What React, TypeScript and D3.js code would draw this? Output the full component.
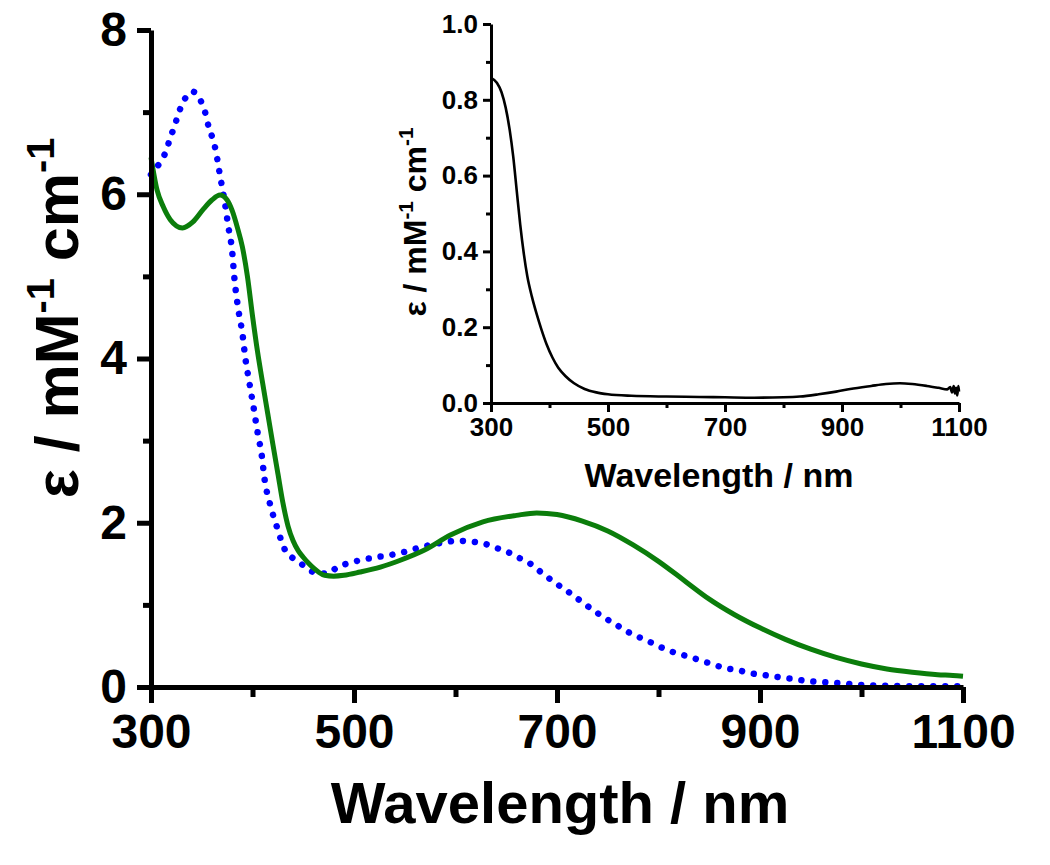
import React, { useEffect, useRef } from "react";
import * as d3 from "d3";

// ---- Data ----
const greenNm = [300, 306, 312, 319, 331, 341, 351, 360, 368, 375, 380, 385, 390, 395, 400, 405, 410, 415, 420, 425, 430, 435, 440, 445, 450, 455, 460, 465, 471, 480, 490, 506, 526, 545, 570, 595, 627, 660, 680, 700, 725, 750, 775, 800, 825, 850, 875, 900, 925, 950, 975, 1000, 1025, 1050, 1075, 1090, 1100];
const greenEps = [6.45, 6.05, 5.85, 5.69, 5.59, 5.66, 5.81, 5.93, 5.99, 5.93, 5.8, 5.6, 5.36, 5.0, 4.52, 4.08, 3.7, 3.33, 2.96, 2.6, 2.24, 1.96, 1.78, 1.66, 1.58, 1.51, 1.45, 1.4, 1.36, 1.35, 1.36, 1.4, 1.46, 1.54, 1.67, 1.85, 2.01, 2.09, 2.12, 2.1, 2.02, 1.9, 1.73, 1.53, 1.3, 1.07, 0.88, 0.72, 0.58, 0.46, 0.36, 0.28, 0.22, 0.18, 0.15, 0.14, 0.13];

const blueNm = [300, 309, 315, 319, 323, 327, 332, 341, 350, 354, 357, 361, 364, 367, 370, 373, 376, 380, 382, 386, 390, 393, 397, 401, 405, 409, 412, 417, 424, 432, 442, 449, 460, 473, 484, 498, 509, 521, 532, 545, 557, 568, 580, 593, 604, 616, 627, 641, 652, 663, 675, 686, 698, 711, 723, 734, 746, 758, 770, 782, 793, 805, 818, 830, 842, 853, 865, 877, 889, 901, 913, 925, 937, 949, 961, 974, 986, 998, 1025, 1050, 1075, 1100];
const blueEps = [6.24, 6.39, 6.53, 6.69, 6.82, 6.98, 7.13, 7.25, 7.11, 6.97, 6.81, 6.67, 6.52, 6.3, 6.09, 5.88, 5.62, 5.3, 5.0, 4.6, 4.31, 4.0, 3.7, 3.41, 3.1, 2.83, 2.52, 2.24, 1.95, 1.67, 1.55, 1.49, 1.4, 1.38, 1.46, 1.52, 1.55, 1.58, 1.6, 1.63, 1.67, 1.71, 1.74, 1.77, 1.78, 1.77, 1.75, 1.69, 1.64, 1.57, 1.49, 1.38, 1.27, 1.16, 1.05, 0.95, 0.85, 0.76, 0.67, 0.6, 0.54, 0.47, 0.41, 0.37, 0.32, 0.28, 0.23, 0.21, 0.17, 0.15, 0.13, 0.11, 0.09, 0.07, 0.06, 0.05, 0.04, 0.025, 0.015, 0.01, 0.01, 0.01];

const insetNm = [300, 310, 318, 325, 332, 338, 344, 350, 356, 362, 370, 378, 386, 395, 405, 415, 428, 442, 460, 480, 500, 540, 600, 656, 700, 750, 800, 828, 860, 890, 914, 950, 975, 999, 1020, 1045, 1065, 1080, 1085, 1088, 1091, 1093, 1095, 1097, 1099, 1100];
const insetEps = [0.858, 0.845, 0.82, 0.78, 0.72, 0.65, 0.56, 0.47, 0.395, 0.335, 0.28, 0.235, 0.195, 0.155, 0.12, 0.093, 0.07, 0.052, 0.037, 0.028, 0.023, 0.019, 0.017, 0.016, 0.015, 0.014, 0.015, 0.017, 0.023, 0.03, 0.037, 0.045, 0.05, 0.052, 0.05, 0.045, 0.04, 0.036, 0.042, 0.028, 0.045, 0.025, 0.04, 0.02, 0.045, 0.03];

const mainXTicks = [300, 500, 700, 900, 1100];
const mainXMinor = [400, 600, 800, 1000];
const mainYTicks = [0, 2, 4, 6, 8];
const mainYMinor = [1, 3, 5, 7];
const insetXTicks = [300, 500, 700, 900, 1100];
const insetXMinor = [400, 600, 800, 1000];
const insetYTicks = [0, 0.2, 0.4, 0.6, 0.8, 1.0];
const insetYMinor = [0.1, 0.3, 0.5, 0.7, 0.9];

const FONT = "Arial, 'Liberation Sans', Helvetica, sans-serif";

export default function App() {
  const ref = useRef<SVGSVGElement | null>(null);

  useEffect(() => {
    const svg = d3.select(ref.current);
    svg.selectAll("*").remove();

    // ---------- Main chart ----------
    const x = d3.scaleLinear().domain([300, 1100]).range([151, 963]);
    const y = d3.scaleLinear().domain([0, 8]).range([687, 30]);

    const line = (xs: number[], ys: number[], sx: any, sy: any) =>
      d3
        .line<number>()
        .x((_, i) => sx(xs[i]))
        .y((_, i) => sy(ys[i]))
        .curve(d3.curveMonotoneX)(ys as any);

    const main = svg.append("g");

    main
      .append("path")
      .attr("d", line(blueNm, blueEps, x, y) as string)
      .attr("fill", "none")
      .attr("stroke", "#0000ff")
      .attr("stroke-width", 6.5)
      .attr("stroke-linecap", "round")
      .attr("stroke-dasharray", "0.01 12");

    main
      .append("path")
      .attr("d", line(greenNm, greenEps, x, y) as string)
      .attr("fill", "none")
      .attr("stroke", "#0b7d0b")
      .attr("stroke-width", 5)
      .attr("stroke-linejoin", "round");

    const styleAxis = (g: any, sw: number, fs: number) => {
      g.select(".domain").attr("stroke", "#000").attr("stroke-width", sw);
      g.selectAll(".tick line").attr("stroke", "#000").attr("stroke-width", sw);
      g.selectAll(".tick text")
        .attr("fill", "#000")
        .attr("font-family", FONT)
        .attr("font-weight", "bold")
        .attr("font-size", fs);
      g.attr("font-family", null).attr("font-size", null);
    };

    // x axis main
    const gx = main
      .append("g")
      .attr("transform", `translate(0,687)`)
      .call(
        d3.axisBottom(x).tickValues(mainXTicks).tickSize(16).tickSizeOuter(0).tickPadding(11).tickFormat(d3.format("d") as any)
      );
    styleAxis(gx, 5, 48);
    const gxm = main
      .append("g")
      .attr("transform", `translate(0,687)`)
      .call(d3.axisBottom(x).tickValues(mainXMinor).tickSize(10).tickSizeOuter(0).tickFormat(() => ""));
    styleAxis(gxm, 5, 48);
    gxm.select(".domain").remove();

    // y axis main
    const gy = main
      .append("g")
      .attr("transform", `translate(151,0)`)
      .call(d3.axisLeft(y).tickValues(mainYTicks).tickSize(14).tickSizeOuter(0).tickPadding(10).tickFormat(d3.format("d") as any));
    styleAxis(gy, 5, 48);
    const gym = main
      .append("g")
      .attr("transform", `translate(151,0)`)
      .call(d3.axisLeft(y).tickValues(mainYMinor).tickSize(8).tickSizeOuter(0).tickFormat(() => ""));
    styleAxis(gym, 5, 48);
    gym.select(".domain").remove();

    // titles main
    main
      .append("text")
      .attr("x", 560)
      .attr("y", 823)
      .attr("text-anchor", "middle")
      .attr("font-family", FONT)
      .attr("font-weight", "bold")
      .attr("font-size", 58)
      .text("Wavelength / nm");

    const addYTitle = (g: any, tx: number, ty: number, fs: number) => {
      const t = g
        .append("text")
        .attr("transform", `translate(${tx},${ty}) rotate(-90)`)
        .attr("text-anchor", "middle")
        .attr("font-family", FONT)
        .attr("font-weight", "bold")
        .attr("font-size", fs);
      t.append("tspan").text("ε / mM");
      t.append("tspan").attr("font-size", fs * 0.65).attr("dy", -fs * 0.4).text("-1");
      t.append("tspan").attr("dy", fs * 0.4).text(" cm");
      t.append("tspan").attr("font-size", fs * 0.65).attr("dy", -fs * 0.4).text("-1");
    };
    addYTitle(main, 78, 318, 61);

    // ---------- Inset ----------
    const ix = d3.scaleLinear().domain([300, 1100]).range([491, 959]);
    const iy = d3.scaleLinear().domain([0, 1]).range([403, 24]);
    const inset = svg.append("g");

    inset
      .append("path")
      .attr("d", line(insetNm, insetEps, ix, iy) as string)
      .attr("fill", "none")
      .attr("stroke", "#000")
      .attr("stroke-width", 2.6)
      .attr("stroke-linejoin", "round");

    const igx = inset
      .append("g")
      .attr("transform", `translate(0,403)`)
      .call(d3.axisBottom(ix).tickValues(insetXTicks).tickSize(9).tickSizeOuter(0).tickPadding(6).tickFormat(d3.format("d") as any));
    styleAxis(igx, 3, 26);
    const igxm = inset
      .append("g")
      .attr("transform", `translate(0,403)`)
      .call(d3.axisBottom(ix).tickValues(insetXMinor).tickSize(5).tickSizeOuter(0).tickFormat(() => ""));
    styleAxis(igxm, 3, 26);
    igxm.select(".domain").remove();

    const igy = inset
      .append("g")
      .attr("transform", `translate(491,0)`)
      .call(d3.axisLeft(iy).tickValues(insetYTicks).tickSize(8).tickSizeOuter(0).tickPadding(5).tickFormat(d3.format(".1f") as any));
    styleAxis(igy, 3, 26);
    const igym = inset
      .append("g")
      .attr("transform", `translate(491,0)`)
      .call(d3.axisLeft(iy).tickValues(insetYMinor).tickSize(5).tickSizeOuter(0).tickFormat(() => ""));
    styleAxis(igym, 3, 26);
    igym.select(".domain").remove();

    inset
      .append("text")
      .attr("x", 719)
      .attr("y", 487)
      .attr("text-anchor", "middle")
      .attr("font-family", FONT)
      .attr("font-weight", "bold")
      .attr("font-size", 34)
      .text("Wavelength / nm");

    addYTitle(inset, 426, 222, 32);
  }, []);

  return (
    <svg
      ref={ref}
      width={1050}
      height={865}
      style={{ position: "absolute", left: 0, top: 0, background: "#fff" }}
    />
  );
}
